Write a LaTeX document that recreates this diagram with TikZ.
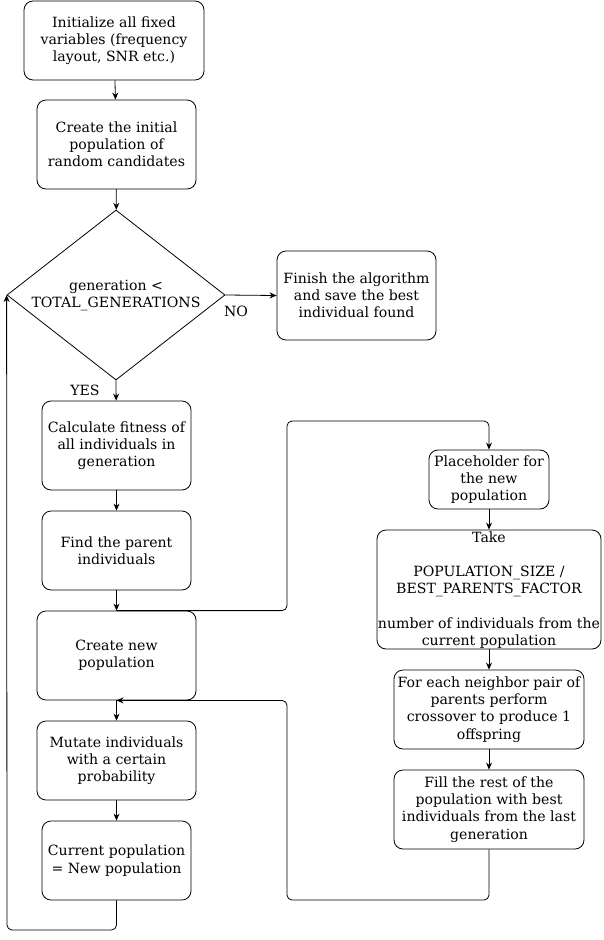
\documentclass[tikz,border=0pt]{standalone}
\usepackage{fontspec}
\setmainfont{DejaVu Serif}
\usetikzlibrary{shapes.geometric,arrows.meta}
\begin{document}
\begin{tikzpicture}[x=1pt,y=-1pt,
 box/.style={draw, rounded corners=9pt, align=center, inner sep=0pt, line width=0.8pt},
 arr/.style={-{Stealth[length=7pt,width=6pt]}, line width=0.8pt, rounded corners=5pt},
 lbl/.style={inner sep=0pt},
 font=\fontsize{14.1}{17.2}\selectfont]
\useasboundingbox (0,0) rectangle (603,940);
\node[box, minimum width=180pt, minimum height=79pt] (init) at (114,40.5) {Initialize all fixed\\variables (frequency\\layout, SNR etc.)};
\node[box, minimum width=159pt, minimum height=89pt] (initpop) at (116.5,144.5) {Create the initial\\population of\\random candidates};
\node[draw, diamond, line width=0.8pt, minimum width=218pt, minimum height=170pt, inner sep=0pt, aspect=1.28] (dec) at (116,295) {};
\node[lbl, align=center] (dectext) at (116,295.5) {generation <\\TOTAL\_GENERATIONS};
\node[box, minimum width=159pt, minimum height=89pt] (finish) at (356.5,295.5) {Finish the algorithm\\and save the best\\individual found};
\node[box, minimum width=149pt, minimum height=89pt] (fit) at (116.5,445.5) {Calculate fitness of\\all individuals in\\generation};
\node[box, minimum width=149pt, minimum height=79pt] (parents) at (116.5,550.5) {Find the parent\\individuals};
\node[box, minimum width=159pt, minimum height=89pt] (newpop) at (116.5,655.5) {Create new\\population};
\node[box, minimum width=159pt, minimum height=79pt] (mutate) at (116.5,760.5) {Mutate individuals\\with a certain\\probability};
\node[box, minimum width=149pt, minimum height=79pt] (cur) at (116.5,860.5) {Current population\\= New population};
\node[box, minimum width=120pt, minimum height=59pt] (place) at (489,479.5) {Placeholder for\\the new\\population};
\node[box, minimum width=224pt, minimum height=119pt] (take) at (489,589.5) {};
\node[lbl, align=center] (taketext) at (489,590) {Take\\[17pt]POPULATION\_SIZE /\\BEST\_PARENTS\_FACTOR\\[17pt]number of individuals from the\\current population};
\node[box, minimum width=190pt, minimum height=79pt] (cross) at (489,709.5) {For each neighbor pair of\\parents perform\\crossover to produce 1\\offspring};
\node[box, minimum width=190pt, minimum height=79pt] (fill) at (489,809.5) {Fill the rest of the\\population with best\\individuals from the last\\generation};
\node[lbl] (no) at (236,311) {NO};
\node[lbl] (yes) at (85,390.5) {YES};
\coordinate (c1) at (287,421);
\coordinate (c2) at (287,900);
\coordinate (c3) at (7,930);
\draw[arr] (init) -- (initpop);
\draw[arr] (initpop) -- (dec);
\draw[arr] (dec.east) -- (finish.west);
\draw[arr] (dec.south) -- (fit);
\draw[arr] (fit) -- (parents);
\draw[arr] (parents) -- (newpop);
\draw[arr] (newpop.north) -| (c1) -| (place.north);
\draw[arr] (place) -- (take);
\draw[arr] (take) -- (cross);
\draw[arr] (cross) -- (fill);
\draw[arr] (fill.south) |- (c2) |- (newpop.south);
\draw[arr] (newpop) -- (mutate);
\draw[arr] (mutate) -- (cur);
\draw[arr] (cur.south) |- (c3) -- (dec.west);
\end{tikzpicture}
\end{document}
